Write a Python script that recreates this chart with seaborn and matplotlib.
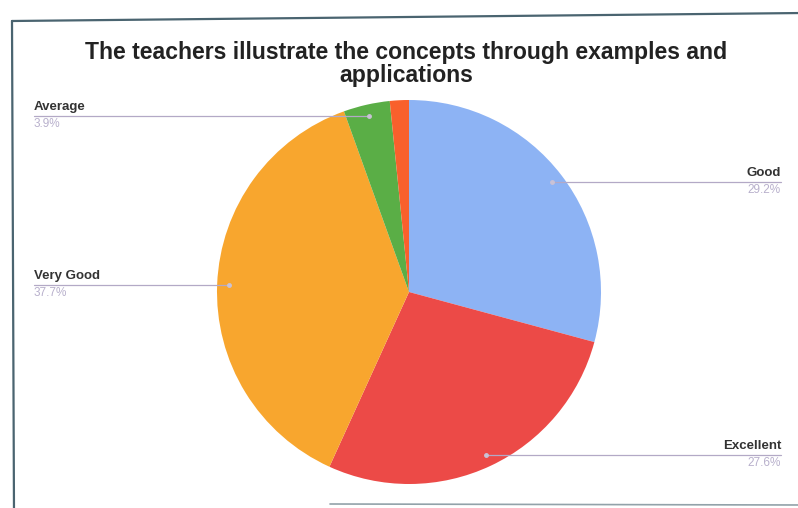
import numpy as np
import matplotlib
matplotlib.use("Agg")
import matplotlib.pyplot as plt
import seaborn as sns

# ---- data ----
categories = ["Good", "Excellent", "Very Good", "Average", "Poor"]
values = [29.2, 27.6, 37.7, 3.9, 1.6]
show_label = [True, True, True, True, False]
colors = ["#8db3f4", "#ec4a47", "#f8a62e", "#5aae46", "#f9602c"]
title = "The teachers illustrate the concepts through examples and\napplications"

sns.set_theme(style="white")
plt.rcParams["font.family"] = ["Liberation Sans", "DejaVu Sans"]

W, H = 798, 508
fig = plt.figure(figsize=(W / 100, H / 100), dpi=100)
ax = fig.add_axes([0, 0, 1, 1])

cx, cy, R = 409, H - 292, 192

wedges, _ = ax.pie(values, colors=colors, startangle=90, counterclock=False,
                   center=(cx, cy), radius=R, frame=True,
                   wedgeprops=dict(linewidth=0))
ax.set_xlim(0, W)
ax.set_ylim(0, H)
ax.set_aspect("equal")
ax.axis("off")

# frame border (photo of a card)
ax.plot([12, W + 5], [H - 21, H - 13], color="#4a6470", lw=1.6)
ax.plot([12, 14], [H - 21, -5], color="#4a6470", lw=1.6)
ax.plot([330, W + 5], [H - 504, H - 505], color="#4a6470", lw=1.2, alpha=0.6)

# title
ax.text(406, H - 64, title, ha="center", va="center", fontsize=16.6,
        fontweight="bold", color="#222222", linespacing=1.0)

total = sum(values)
cum = 0.0
line_col = "#b3a9c6"
for cat, v, show in zip(categories, values, show_label):
    mid = (cum + v / 2) / total * 360.0
    cum += v
    if not show:
        continue
    a = np.deg2rad(mid)
    px = cx + 0.94 * R * np.sin(a)
    py = cy + 0.94 * R * np.cos(a)
    right = np.sin(a) > 0
    lx = 781 if right else 34
    ha = "right" if right else "left"
    ax.plot([px, lx], [py, py], color=line_col, lw=0.9)
    ax.plot([px], [py], marker="o", ms=2.5, color="#c9c2d6")
    ax.text(lx, py + 3, cat, ha=ha, va="bottom", fontsize=9.5,
            fontweight="bold", color="#333333")
    ax.text(lx, py - 2, f"{v}%", ha=ha, va="top", fontsize=8.5,
            color="#b8b0cc")

fig.savefig("out.png", dpi=100, facecolor="white")
